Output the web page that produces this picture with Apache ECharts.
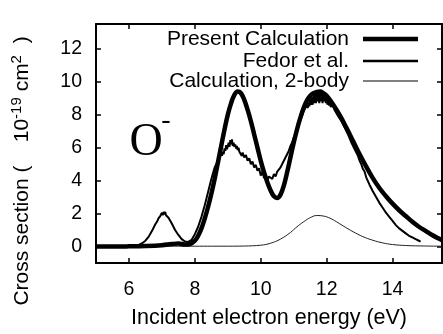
<!DOCTYPE html>
<html><head><meta charset="utf-8">
<script src="https://cdn.jsdelivr.net/npm/echarts@6/dist/echarts.min.js"></script>
<style>html,body{margin:0;padding:0;background:#fff}#c{width:443px;height:334px}</style>
</head><body><div id="c"></div>
<script>
const xTicks = [6, 8, 10, 12, 14];
const yTicks = [0, 2, 4, 6, 8, 10, 12];
const seriesNames = ['Present Calculation', 'Fedor et al.', 'Calculation, 2-body'];

const presentCalc = [[5.0,0.0],[5.5,0.0],[6.0,0.01],[6.5,0.03],[7.0,0.08],[7.3,0.15],[7.5,0.18],[7.7,0.12],[7.85,0.15],[8.0,0.35],[8.1,0.65],[8.2,1.1],[8.3,1.7],[8.4,2.4],[8.5,3.2],[8.6,4.1],[8.7,5.1],[8.8,6.1],[8.9,7.1],[9.0,8.0],[9.1,8.7],[9.2,9.2],[9.3,9.4],[9.4,9.3],[9.5,8.9],[9.6,8.3],[9.7,7.6],[9.8,6.8],[9.9,6.0],[10.0,5.2],[10.1,4.5],[10.2,3.9],[10.3,3.4],[10.4,3.05],[10.5,2.95],[10.6,3.15],[10.7,3.7],[10.8,4.5],[10.9,5.4],[11.0,6.3],[11.1,7.1],[11.2,7.8],[11.3,8.4],[11.4,8.85],[11.5,9.15],[11.6,9.3],[11.7,9.38],[11.8,9.4],[11.9,9.3],[12.0,9.15],[12.2,8.6],[12.4,7.95],[12.6,7.2],[12.8,6.4],[13.0,5.6],[13.2,4.85],[13.4,4.15],[13.6,3.55],[13.8,3.05],[14.0,2.6],[14.2,2.2],[14.4,1.85],[14.6,1.5],[14.8,1.2],[15.0,0.95],[15.2,0.7],[15.4,0.48],[15.5,0.38]];

const fedor = [[5.0,0.0],[5.5,0.0],[6.0,0.02],[6.2,0.05],[6.3,0.1],[6.4,0.2],[6.5,0.35],[6.6,0.6],[6.7,0.95],[6.8,1.35],[6.85,1.5],[6.9,1.72],[6.95,1.85],[7.0,2.05],[7.025,1.9],[7.05,2.1],[7.075,1.95],[7.1,2.1],[7.125,1.9],[7.15,1.92],[7.2,1.75],[7.3,1.4],[7.4,1.0],[7.5,0.7],[7.6,0.45],[7.7,0.3],[7.8,0.28],[7.9,0.4],[8.0,0.75],[8.1,1.2],[8.2,1.8],[8.3,2.5],[8.4,3.3],[8.5,4.1],[8.6,4.8],[8.65,5.0],[8.7,5.1],[8.75,5.4],[8.8,5.7],[8.825,5.5],[8.85,5.75],[8.875,5.6],[8.9,5.95],[8.925,5.8],[8.95,6.15],[8.975,5.9],[9.0,6.0],[9.025,6.3],[9.05,6.05],[9.075,6.45],[9.1,6.2],[9.125,6.5],[9.15,6.1],[9.175,6.3],[9.2,6.05],[9.225,6.2],[9.25,5.95],[9.275,6.1],[9.3,5.85],[9.325,6.0],[9.35,5.75],[9.4,5.7],[9.425,5.5],[9.45,5.7],[9.5,5.4],[9.55,5.55],[9.6,5.2],[9.65,5.35],[9.7,5.0],[9.75,5.15],[9.8,4.8],[9.85,4.95],[9.9,4.6],[9.95,4.75],[10.0,4.3],[10.05,4.55],[10.1,4.15],[10.15,4.35],[10.2,4.0],[10.25,4.25],[10.3,4.3],[10.35,4.1],[10.4,4.4],[10.45,4.25],[10.5,4.55],[10.55,4.5],[10.6,4.8],[10.65,4.9],[10.7,5.2],[10.75,5.3],[10.8,5.6],[10.85,5.8],[10.9,6.1],[10.95,6.3],[11.0,6.6],[11.05,6.8],[11.1,7.2],[11.15,7.4],[11.2,7.7],[11.25,7.9],[11.3,8.2],[11.35,8.3],[11.4,8.6],[11.425,8.4],[11.45,8.75],[11.475,8.5],[11.5,8.95],[11.525,8.6],[11.55,9.05],[11.575,8.6],[11.6,9.15],[11.625,8.7],[11.65,9.25],[11.675,8.7],[11.7,9.3],[11.725,8.8],[11.75,9.35],[11.775,8.7],[11.8,9.3],[11.825,8.8],[11.85,9.3],[11.875,8.7],[11.9,9.25],[11.925,8.8],[11.95,9.2],[11.975,8.7],[12.0,9.1],[12.025,8.6],[12.05,9.0],[12.075,8.55],[12.1,8.9],[12.125,8.45],[12.15,8.7],[12.2,8.5],[12.25,8.25],[12.3,8.3],[12.35,7.9],[12.4,7.95],[12.45,7.6],[12.5,7.6],[12.55,7.2],[12.6,7.2],[12.65,6.8],[12.7,6.7],[12.75,6.3],[12.8,6.3],[12.85,5.9],[12.9,5.8],[12.95,5.5],[13.0,5.2],[13.05,5.0],[13.1,4.7],[13.15,4.55],[13.2,4.2],[13.25,4.1],[13.3,3.75],[13.35,3.7],[13.4,3.35],[13.45,3.3],[13.5,3.0],[13.55,2.95],[13.6,2.65],[13.65,2.6],[13.7,2.35],[13.75,2.3],[13.8,2.05],[13.85,2.0],[13.9,1.8],[13.95,1.75],[14.0,1.55],[14.05,1.5],[14.1,1.3],[14.15,1.3],[14.2,1.1],[14.25,1.1],[14.3,0.95],[14.35,0.9],[14.4,0.8],[14.45,0.8],[14.5,0.65],[14.55,0.65],[14.6,0.55],[14.65,0.5],[14.7,0.45],[14.75,0.42],[14.8,0.35],[14.85,0.3]];

const twoBody = [[5.0,0.02],[6.0,0.02],[7.0,0.02],[8.0,0.02],[9.0,0.02],[9.5,0.03],[10.0,0.08],[10.3,0.2],[10.6,0.45],[10.9,0.85],[11.1,1.2],[11.3,1.5],[11.5,1.75],[11.7,1.88],[11.9,1.85],[12.1,1.72],[12.3,1.5],[12.5,1.25],[12.8,0.9],[13.1,0.6],[13.4,0.38],[13.7,0.22],[14.0,0.12],[14.4,0.06],[15.0,0.03],[15.5,0.02]];

const FONT = 'Liberation Sans';
const chart = echarts.init(document.getElementById('c'), null, {renderer: 'canvas'});

function xAx(pos, labels) {
  return {
    type: 'value', min: 5, max: 15.5, position: pos,
    axisLine: {show: true, onZero: false, lineStyle: {color: '#000', width: 2}},
    axisTick: {show: true, inside: true, length: 5, customValues: xTicks, lineStyle: {color: '#000', width: 1.5}},
    axisLabel: {show: labels, customValues: xTicks, color: '#000', fontSize: 19.5, fontFamily: FONT, margin: 17},
    splitLine: {show: false}
  };
}
function yAx(pos, labels) {
  return {
    type: 'value', min: -1, max: 13.5, position: pos,
    axisLine: {show: true, onZero: false, lineStyle: {color: '#000', width: 2}},
    axisTick: {show: true, inside: true, length: 5, customValues: yTicks, lineStyle: {color: '#000', width: 1.5}},
    axisLabel: {show: labels, customValues: yTicks, color: '#000', fontSize: 19.5, fontFamily: FONT, margin: 14},
    splitLine: {show: false}
  };
}

const xBottom = xAx('bottom', true);
xBottom.name = 'Incident electron energy (eV)';
xBottom.nameLocation = 'middle';
xBottom.nameGap = 44;
xBottom.nameTextStyle = {color: '#000', fontSize: 21.5, fontFamily: FONT};

const legendY = [39, 61, 81];
const legendW = [4.5, 2.5, 1];
const graphics = [];
seriesNames.forEach((n, i) => {
  graphics.push({type: 'text', x: 349, y: legendY[i], style: {text: n, align: 'right', verticalAlign: 'middle', fontSize: 21, fontFamily: FONT, fill: '#000'}});
  graphics.push({type: 'line', shape: {x1: 363, y1: legendY[i], x2: 418, y2: legendY[i]}, style: {stroke: '#000', lineWidth: legendW[i]}});
});
graphics.push({type: 'text', x: 146, y: 143, style: {text: 'O', align: 'center', verticalAlign: 'middle', fontSize: 46, fontFamily: 'Liberation Serif', fill: '#000'}});
graphics.push({type: 'text', x: 166, y: 121, style: {text: '-', align: 'center', verticalAlign: 'middle', fontSize: 28, fontFamily: 'Liberation Serif', fill: '#000'}});
graphics.push({type: 'text', x: 22, y: 171, rotation: Math.PI / 2, style: {
  text: 'Cross section (    10{sup|-19} cm{sup|2}  )', align: 'center', verticalAlign: 'middle',
  fontSize: 21, fontFamily: FONT, fill: '#000',
  rich: {sup: {fontSize: 15, fontFamily: FONT, fill: '#000', padding: [0, 0, 10, 0]}}
}});

chart.setOption({
  animation: false,
  backgroundColor: '#fff',
  grid: {left: 96, right: 1, top: 24, bottom: 65, containLabel: false},
  xAxis: [xBottom, xAx('top', false)],
  yAxis: [yAx('left', true), yAx('right', false)],
  series: [
    {name: seriesNames[2], type: 'line', data: twoBody, smooth: 0.4, showSymbol: false, symbol: 'none', lineStyle: {color: '#222', width: 1}, z: 2},
    {name: seriesNames[1], type: 'line', data: fedor, showSymbol: false, symbol: 'none', lineStyle: {color: '#000', width: 2}, z: 3},
    {name: seriesNames[0], type: 'line', data: presentCalc, smooth: 0.4, showSymbol: false, symbol: 'none', lineStyle: {color: '#000', width: 4.5}, z: 4}
  ],
  graphic: graphics
});
</script>
</body></html>
